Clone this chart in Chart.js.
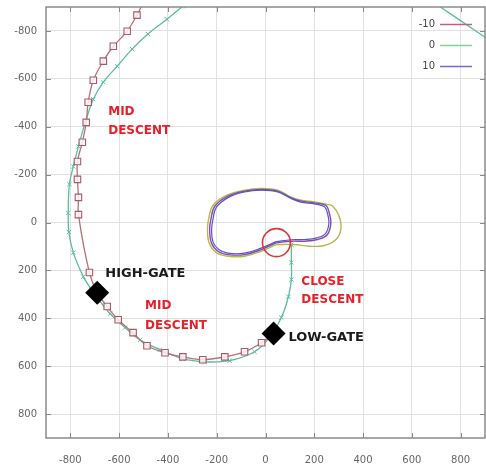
<!DOCTYPE html>
<html>
<head>
<meta charset="utf-8">
<script src="https://cdn.jsdelivr.net/npm/chart.js@4/dist/chart.umd.min.js"></script>
<style>
  html, body { margin: 0; padding: 0; background: #fff; }
  #wrap { width: 486px; height: 467px; }
</style>
</head>
<body>
<div id="wrap"><canvas id="c" width="486" height="467"></canvas></div>
<script>
// Axis ticks (same on both axes; y runs downward)
const TICKS = [-800, -600, -400, -200, 0, 200, 400, 600, 800];

// Series labels
const SERIES_LABELS = ['-10', '0', '10'];

// Track "-10": approach with square markers, [x, y]
const TRACK_M10 = [
  [-502, -916], [-527, -866], [-567, -799], [-624, -736], [-665, -674],
  [-706, -594], [-727, -502], [-735, -418], [-751, -335], [-771, -255],
  [-771, -180], [-767, -105], [-767, -33], [-722, 209], [-690, 293],
  [-649, 351], [-604, 406], [-543, 460], [-486, 515], [-412, 544],
  [-339, 561], [-257, 573], [-167, 561], [-86, 540], [-16, 502], [33, 464]
];

// Track "0": approach with cross markers, [x, y]
const TRACK_0 = [
  [-310, -933], [-339, -904], [-404, -849], [-482, -787], [-547, -724],
  [-608, -653], [-665, -586], [-706, -515], [-739, -418], [-767, -318],
  [-788, -234], [-804, -160], [-809, -40], [-806, 40], [-788, 126],
  [-747, 226], [-714, 280], [-678, 331], [-637, 381], [-576, 439],
  [-514, 490], [-433, 531], [-339, 569], [-249, 582], [-147, 577],
  [-45, 540], [16, 481], [65, 397], [94, 310], [106, 238], [106, 167], [106, 92]
];

// Track "0": segment re-entering at the upper right
const TRACK_0_UPPER = [[560, -1008], [669, -933], [894, -778], [960, -733]];

// Ground loops near the field
const LOOP_OUTER = [
  [44, 92], [-18, 120], [-86, 141], [-154, 141], [-200, 127], [-230, 88],
  [-238, 29], [-233, -15], [-215, -72], [-158, -114], [-86, -135], [-18, -142],
  [50, -135], [105, -106], [146, -93], [200, -86], [248, -76], [275, -69],
  [302, -26], [309, 29], [289, 71], [241, 96], [180, 99], [118, 92], [44, 92]
];
const LOOP_MID = [
  [44, 85], [-18, 113], [-86, 134], [-154, 134], [-195, 120], [-222, 85],
  [-229, 29], [-224, -13], [-208, -68], [-154, -110], [-86, -131], [-18, -138],
  [50, -131], [105, -103], [146, -89], [200, -82], [248, -71], [261, -41],
  [268, 1], [254, 50], [213, 71], [159, 78], [105, 78], [44, 85]
];
const LOOP_INNER = [
  [44, 80], [-18, 107], [-86, 128], [-154, 128], [-190, 114], [-215, 82],
  [-221, 29], [-216, -10], [-201, -64], [-150, -106], [-86, -128], [-18, -135],
  [50, -128], [105, -100], [146, -85], [200, -78], [242, -66], [254, -38],
  [260, 1], [247, 45], [210, 64], [159, 71], [105, 72], [44, 80]
];

// Gate fixes and touchdown zone
const GATES = [[-690, 293], [33, 464]];
const TOUCHDOWN = [[45, 84]];

// Phase annotations (data coordinates, left edge / middle)
const NOTES = [
  { text: 'MID', x: -645, y: -464, color: '#e8202a', size: 12 },
  { text: 'DESCENT', x: -645, y: -381, color: '#e8202a', size: 12 },
  { text: 'MID', x: -494, y: 347, color: '#e8202a', size: 12 },
  { text: 'DESCENT', x: -494, y: 431, color: '#e8202a', size: 12 },
  { text: 'CLOSE', x: 147, y: 247, color: '#e8202a', size: 12 },
  { text: 'DESCENT', x: 147, y: 322, color: '#e8202a', size: 12 },
  { text: 'HIGH-GATE', x: -657, y: 213, color: '#1a1a1a', size: 13 },
  { text: 'LOW-GATE', x: 94, y: 481, color: '#1a1a1a', size: 13 }
];

const pts = arr => arr.map(([x, y]) => ({ x, y }));

const COL_M10 = '#c0607a';
const COL_0 = '#5cbca0';
const COL_10 = '#6a6ad8';

const datasets = [
  {
    label: SERIES_LABELS[0], data: pts(TRACK_M10), showLine: true, tension: 0.35,
    borderColor: '#b87078', borderWidth: 1.3,
    pointStyle: 'rect', pointRadius: 4.6, pointBorderWidth: 1.1,
    pointBorderColor: '#a85a6a', pointBackgroundColor: 'rgba(255,245,245,0.85)',
    legendColor: COL_M10, order: 3, clip: 0
  },
  {
    label: SERIES_LABELS[1], data: pts(TRACK_0), showLine: true, tension: 0.35,
    borderColor: COL_0, borderWidth: 1.3,
    pointStyle: 'crossRot', pointRadius: 3, pointBorderWidth: 1,
    pointBorderColor: COL_0, legendColor: '#7cd890', order: 4, clip: 0
  },
  {
    label: '', data: pts(TRACK_0_UPPER), showLine: true, tension: 0.3,
    borderColor: COL_0, borderWidth: 1.3, pointRadius: 0, order: 4, clip: 0
  },
  {
    label: '', data: pts(LOOP_OUTER), showLine: true, tension: 0.4,
    borderColor: '#b4ba48', borderWidth: 1.4, pointRadius: 0, order: 7, clip: 0
  },
  {
    label: '', data: pts(LOOP_MID), showLine: true, tension: 0.4,
    borderColor: '#8a48a8', borderWidth: 1.4, pointRadius: 0, order: 6, clip: 0
  },
  {
    label: SERIES_LABELS[2], data: pts(LOOP_INNER), showLine: true, tension: 0.4,
    borderColor: '#5656c8', borderWidth: 1.2, pointRadius: 0,
    legendColor: COL_10, order: 5, clip: 0
  },
  {
    label: '', data: pts(TOUCHDOWN), showLine: false,
    pointStyle: 'circle', pointRadius: 14, pointBorderWidth: 1.6,
    pointBorderColor: '#d83838', pointBackgroundColor: 'rgba(0,0,0,0)', order: 2
  },
  {
    label: '', data: pts(GATES), showLine: false,
    pointStyle: 'rectRot', pointRadius: 12, pointBorderWidth: 0,
    pointBackgroundColor: '#000', pointBorderColor: '#000', order: 1
  }
];

// Frame, inward tick marks, phase labels and the key
const decorations = {
  id: 'decorations',
  afterDraw(chart) {
    const { ctx, chartArea: a, scales } = chart;
    const xs = scales.x, ys = scales.y;
    ctx.save();
    ctx.strokeStyle = '#8a8a8a';
    ctx.lineWidth = 1.5;
    ctx.strokeRect(a.left, a.top, a.right - a.left, a.bottom - a.top);

    ctx.strokeStyle = '#888';
    ctx.lineWidth = 1;
    ctx.beginPath();
    TICKS.forEach(v => {
      const px = Math.round(xs.getPixelForValue(v)) + 0.5;
      ctx.moveTo(px, a.bottom); ctx.lineTo(px, a.bottom - 5);
      ctx.moveTo(px, a.top); ctx.lineTo(px, a.top + 5);
      const py = Math.round(ys.getPixelForValue(v)) + 0.5;
      ctx.moveTo(a.left, py); ctx.lineTo(a.left + 5, py);
      ctx.moveTo(a.right, py); ctx.lineTo(a.right - 5, py);
    });
    ctx.stroke();

    ctx.textBaseline = 'middle';
    ctx.textAlign = 'left';
    NOTES.forEach(n => {
      ctx.fillStyle = n.color;
      ctx.font = 'bold ' + n.size + 'px "DejaVu Sans"';
      ctx.fillText(n.text, xs.getPixelForValue(n.x), ys.getPixelForValue(n.y));
    });

    // key in the upper right corner
    const keyed = chart.data.datasets.filter(d => d.legendColor);
    const rowY = [17, 38, 59];
    ctx.font = '10px "DejaVu Sans"';
    ctx.textAlign = 'right';
    keyed.forEach((d, i) => {
      const y = a.top + rowY[i];
      ctx.fillStyle = '#444';
      ctx.fillText(d.label, a.right - 50, y);
      ctx.strokeStyle = d.legendColor;
      ctx.lineWidth = 1.5;
      ctx.beginPath();
      ctx.moveTo(a.right - 45, y + 0.5);
      ctx.lineTo(a.right - 13, y + 0.5);
      ctx.stroke();
    });
    ctx.restore();
  }
};

const noPad = s => { s.paddingLeft = s.paddingRight = s.paddingTop = s.paddingBottom = 0; };

const axisCommon = {
  type: 'linear', min: -900, max: 900,
  afterBuildTicks: s => { s.ticks = TICKS.map(v => ({ value: v })); },
  grid: { color: '#e2e2e2', lineWidth: 1, drawTicks: false },
  border: { display: false },
  ticks: { color: '#666', font: { family: 'DejaVu Sans', size: 10 } }
};

new Chart(document.getElementById('c'), {
  type: 'scatter',
  data: { datasets },
  options: {
    responsive: false, animation: false, events: [],
    layout: { autoPadding: false, padding: { top: 7, right: 1, left: 0, bottom: 0 } },
    plugins: { legend: { display: false }, tooltip: { enabled: false } },
    scales: {
      x: Object.assign({}, axisCommon, {
        position: 'bottom',
        ticks: Object.assign({}, axisCommon.ticks, { padding: 16 }),
        afterFit: s => { s.height = 29; noPad(s); }
      }),
      y: Object.assign({}, axisCommon, {
        reverse: true,
        ticks: Object.assign({}, axisCommon.ticks, { padding: 9 }),
        afterFit: s => { s.width = 46; noPad(s); }
      })
    }
  },
  plugins: [decorations]
});
</script>
</body>
</html>
